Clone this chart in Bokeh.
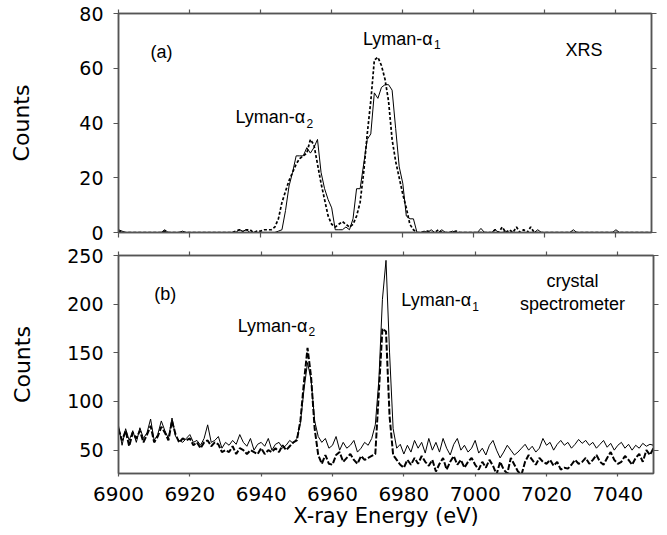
from bokeh.plotting import figure
from bokeh.models import Range1d, LinearAxis, FixedTicker, Label
from bokeh.layouts import column
from bokeh.embed import file_html
from bokeh.resources import INLINE

# ---------------- data ----------------
energy = list(range(6900, 7051))  # eV, 1 eV bins

xrs_solid = [
    1, 0.5, 0, 0, 0, 0, 0, 0, 0, 0,
    0, 0, 0, 1, 0, 0, 0, 0, 0.5, 0,
    0, 0, 0, 0, 0, 0, 0, 0, 0, 0,
    0, 0, 0, 0, 1, 0.5, 1, 0, 0, 0,
    0, 0, 0, 0, 0, 0.5, 1, 8, 17, 22,
    28, 28, 28, 31, 29, 31, 34, 22, 16, 12,
    9, 1, 1, 1, 2, 1, 5, 16, 16, 25,
    34, 36, 51, 49, 53, 54, 54, 52, 38, 24,
    18, 6, 5, 5, 0, 0, 0.5, 0, 1, 0,
    0, 1, 0, 0, 0.5, 0, 0, 0, 0, 0,
    0, 0, 1.5, 0, 0, 0, 1, 0, 0, 0.5,
    0, 0, 0, 0, 0, 0, 0, 0, 1, 0,
    0, 0, 0, 0, 0, 0, 0, 0, 1, 0,
    0, 0, 0, 0, 0, 0, 0, 0, 0, 0,
    1, 0, 0, 0, 0, 0, 0, 0, 0, 0, 0,
]

xrs_dashed = [
    0.5, 0, 0, 0, 0, 0, 0, 0, 0, 0,
    0, 0, 0, 0.5, 0, 0, 0, 0, 0, 0,
    0, 0, 0, 0, 0, 0, 0, 0, 0, 0,
    0, 0, 0, 0.5, 1, 0, 1, 1, 0, 0.5,
    0.5, 1, 1, 1, 2, 5, 11, 15, 19, 22,
    25, 27, 28, 29, 34, 32, 25, 18, 12, 6,
    3, 2, 3, 4, 3, 2, 3, 6, 11, 22,
    36, 48, 63, 64, 61, 56, 48, 34, 26, 20,
    14, 9, 3, 1, 0, 0, 0, 0.5, 0, 0,
    1, 0, 0, 0, 0, 0.5, 0, 0, 0, 0,
    0, 0, 0, 0, 0, 0, 1, 0, 2, 0,
    1, 0, 2, 0, 1, 0, 2, 0, 0, 0,
    0, 0, 0, 0, 0, 0, 0, 0, 0, 0,
    0, 0, 0, 0, 0, 0, 0, 0, 0, 0,
    0, 0, 0, 0, 0, 0, 0, 0, 0, 0, 0,
]

crystal_solid = [
    75, 55, 72, 60, 70, 58, 73, 62, 68, 82,
    60, 66, 80, 70, 62, 83, 64, 60, 58, 62,
    66, 58, 60, 55, 62, 76, 58, 60, 64, 52,
    58, 55, 60, 56, 66, 58, 54, 62, 50, 56,
    58, 54, 62, 50, 56, 58, 52, 55, 60, 57,
    62, 78, 112, 140, 122, 80, 64, 58, 62, 52,
    55, 64, 50, 58, 52, 55, 60, 48, 52, 58,
    55, 62, 76, 122, 205, 245, 150, 72, 52, 56,
    46, 55, 48, 60, 52, 58, 47, 62, 50, 58,
    48, 62, 52, 45, 56, 62, 50, 55, 48, 52,
    60, 47, 52, 45, 55, 60, 50, 42, 48, 55,
    50, 45, 48, 52, 56, 50, 54, 48, 52, 62,
    55, 58, 50, 56, 60, 55, 58, 52, 56, 61,
    57, 60, 55, 58, 52, 56, 60, 53, 57, 50,
    55, 58, 52, 56, 50, 55, 52, 57, 54, 56, 55,
]

crystal_dashed = [
    72, 60, 70, 54, 68, 62, 70, 58, 66, 75,
    58, 64, 74, 68, 60, 80, 66, 58, 62, 60,
    62, 55, 58, 52, 58, 60, 54, 58, 56, 48,
    50, 48, 54, 46, 52, 50, 46, 50, 48, 46,
    52, 46, 50, 48, 52, 48, 55, 50, 54, 58,
    60, 80, 120, 155, 125, 72, 45, 36, 45, 36,
    35, 45, 48, 38, 42, 46, 40, 36, 44, 40,
    42, 44, 46, 110, 175, 172, 85, 45, 40, 35,
    32, 40, 35, 42, 36, 44, 38, 34, 40, 28,
    36, 42, 30, 38, 44, 35, 40, 32, 38, 42,
    35, 30, 38, 32, 40, 34, 25, 38, 30, 26,
    42, 35, 28, 25, 38, 45, 40, 35, 42, 38,
    36, 40, 34, 38, 30, 32, 31, 35, 40, 36,
    38, 42, 36, 40, 45, 38, 35, 42, 48, 40,
    36, 38, 44, 40, 35, 42, 46, 38, 50, 45, 52,
]

x_ticks = [6900, 6920, 6940, 6960, 6980, 7000, 7020, 7040]
top_y_ticks = [0, 20, 40, 60, 80]
bottom_y_ticks = [50, 100, 150, 200, 250]

# ---------------- style ----------------
AXIS_FONT = "DejaVu Sans"
ANN_FONT = "Liberation Sans"
FRAME = "#555555"


def style_axis(ax, labels=True, tick_out=5, standoff=10, size="19px"):
    ax.axis_line_color = FRAME
    ax.axis_line_width = 1.5
    ax.major_tick_line_color = FRAME
    ax.major_tick_line_width = 1.2
    ax.major_tick_out = tick_out
    ax.major_tick_in = 0
    ax.minor_tick_line_color = None
    ax.major_label_text_font = AXIS_FONT
    ax.major_label_text_font_size = size
    ax.major_label_text_color = "black"
    ax.major_label_standoff = standoff
    if not labels:
        ax.major_label_text_font_size = "1px"
        ax.major_label_text_color = None
        ax.major_label_standoff = 0


def axis_title(ax, text, size, standoff):
    ax.axis_label = text
    ax.axis_label_text_font = AXIS_FONT
    ax.axis_label_text_font_size = size
    ax.axis_label_text_font_style = "normal"
    ax.axis_label_text_color = "black"
    ax.axis_label_standoff = standoff


def add_text(p, x, y, text, size="18px", align="left"):
    p.add_layout(Label(x=x, y=y, text=text, text_font=ANN_FONT,
                       text_font_size=size, text_color="black",
                       text_align=align, text_baseline="middle"))


def lyman(p, x, y, sub, dx, dy):
    add_text(p, x, y, "Lyman-\u03b1")
    add_text(p, x + dx, y - dy, sub, size="12px")


# ---------------- top panel (XRS) ----------------
p1 = figure(frame_width=533, frame_height=219,
            x_range=Range1d(6900, 7050), y_range=Range1d(0, 80),
            output_backend="svg", toolbar_location=None,
            min_border_left=118, min_border_right=16,
            min_border_top=13, min_border_bottom=12,
            outline_line_color=FRAME, outline_line_width=1.5)
p1.grid.visible = False
p1.xaxis.ticker = FixedTicker(ticks=x_ticks)
p1.yaxis.ticker = FixedTicker(ticks=top_y_ticks)
style_axis(p1.xaxis[0], labels=False, tick_out=5)
style_axis(p1.yaxis[0], labels=True, tick_out=5, standoff=10)
axis_title(p1.yaxis[0], "Counts", "22px", 42)
ax_r = LinearAxis(ticker=FixedTicker(ticks=top_y_ticks))
style_axis(ax_r, labels=False, tick_out=5)
p1.add_layout(ax_r, "right")
ax_t = LinearAxis(ticker=FixedTicker(ticks=x_ticks))
style_axis(ax_t, labels=False, tick_out=4)
p1.add_layout(ax_t, "above")

p1.line(energy, xrs_solid, line_color="black", line_width=1)
p1.line(energy, xrs_dashed, line_color="black", line_width=1.7, line_dash="3 2")

add_text(p1, 6909.0, 65.8, "(a)")
add_text(p1, 7036.2, 66.5, "XRS", align="right")
lyman(p1, 6968.8, 70.7, "1", 20.0, 2.2)
lyman(p1, 6932.9, 42.2, "2", 20.0, 2.2)

# ---------------- bottom panel (crystal spectrometer) ----------------
p2 = figure(frame_width=535, frame_height=218,
            x_range=Range1d(6900, 7050), y_range=Range1d(26, 250),
            output_backend="svg", toolbar_location=None,
            min_border_left=116, min_border_right=16,
            min_border_top=11, min_border_bottom=62,
            outline_line_color=FRAME, outline_line_width=1.5)
p2.grid.visible = False
p2.xaxis.ticker = FixedTicker(ticks=x_ticks)
p2.yaxis.ticker = FixedTicker(ticks=bottom_y_ticks)
style_axis(p2.xaxis[0], labels=True, tick_out=3, standoff=10, size="20px")
style_axis(p2.yaxis[0], labels=True, tick_out=5, standoff=10)
axis_title(p2.xaxis[0], "X-ray Energy (eV)", "21px", 0)
axis_title(p2.yaxis[0], "Counts", "22px", 29)
ax_r2 = LinearAxis(ticker=FixedTicker(ticks=bottom_y_ticks))
style_axis(ax_r2, labels=False, tick_out=5)
p2.add_layout(ax_r2, "right")
ax_t2 = LinearAxis(ticker=FixedTicker(ticks=x_ticks))
style_axis(ax_t2, labels=False, tick_out=4)
p2.add_layout(ax_t2, "above")

p2.line(energy, crystal_solid, line_color="black", line_width=1)
p2.line(energy, crystal_dashed, line_color="black", line_width=2, line_dash="6 2")

add_text(p2, 6910.0, 210, "(b)")
lyman(p2, 6933.4, 178, "2", 19.9, 6.2)
lyman(p2, 6979.3, 203.8, "1", 19.9, 6.2)
add_text(p2, 7027.3, 224.3, "crystal", align="center")
add_text(p2, 7027.3, 199.7, "spectrometer", align="center")

layout = column(p1, p2)
open("out.html", "w").write(file_html(layout, INLINE))
